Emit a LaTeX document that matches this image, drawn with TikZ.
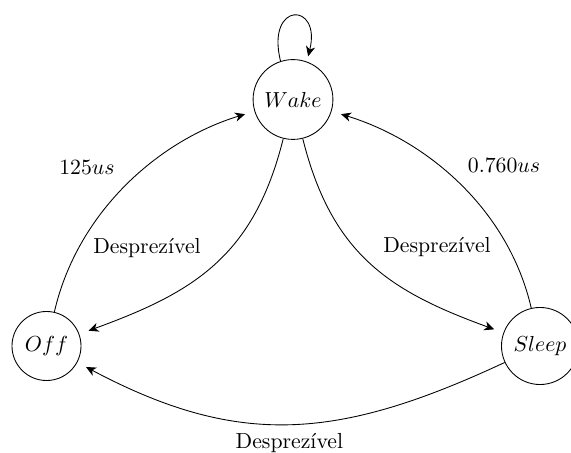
\documentclass[tikz,border=0pt]{standalone}
\usetikzlibrary{arrows.meta}
\begin{document}
\begin{tikzpicture}[x=0.01616cm,y=-0.01616cm,
  >={Stealth[length=4.6pt,width=4.2pt,inset=1.4pt]},
  state/.style={draw,circle,inner sep=0pt},
  edge/.style={->,shorten >=4.5pt}]
\useasboundingbox (0,0) rectangle (571,453);
\node[state,minimum size=1.29cm] (wake) at (293,99.5) {$Wake$};
\node[state,minimum size=1.115cm] (off) at (46.5,346) {$Off$};
\node[state,minimum size=1.245cm] (sleep) at (540,346) {$Sleep$};
\draw[edge,shorten >=2.5pt] (wake.108) .. controls +(104:1.0cm) and +(76:1.0cm) .. (wake.70);
\draw[edge] (off) to[out=77,in=197,looseness=0.92] (wake);
\draw[edge] (wake) to[out=256,in=20,looseness=1.1] (off);
\draw[edge] (wake) to[out=284,in=160,looseness=1.1] (sleep);
\draw[edge] (sleep) to[out=103,in=-17,looseness=0.92] (wake);
\draw[edge] (sleep) to[out=205,in=-28,looseness=1.1] node[below=1pt] (lb) {Desprezível} (off);
\node (l1) at (87,167) {$125us$};
\node (l2) at (504,165) {$0.760us$};
\node (l3) at (147,248) {Desprezível};
\node (l4) at (437,247) {Desprezível};
\end{tikzpicture}
\end{document}
